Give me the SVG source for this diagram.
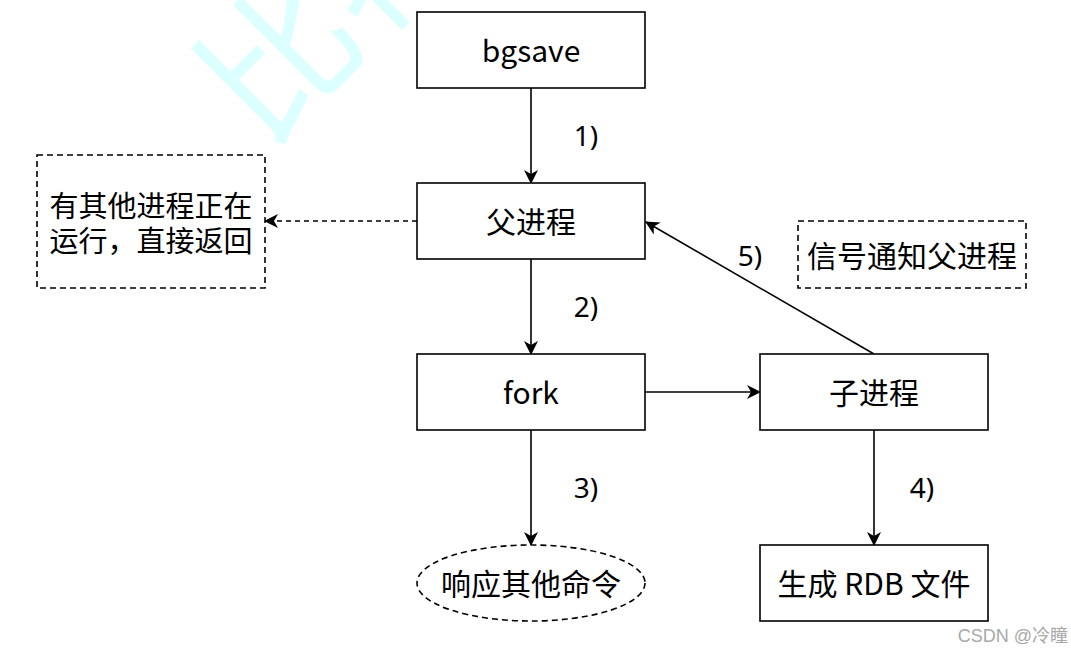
<svg xmlns="http://www.w3.org/2000/svg" width="1071" height="652" viewBox="0 0 1071 652">
<style>
.box{fill:#fff;stroke:#000;stroke-width:1.6}
.dash{fill:#fff;stroke:#000;stroke-width:1.6;stroke-dasharray:6 4}
.t{font-family:"Noto Sans CJK SC","Noto Sans",sans-serif;font-size:30px;fill:#000;text-anchor:middle;dominant-baseline:central}
.n{font-family:"Noto Sans","Noto Sans CJK SC",sans-serif;font-size:28px;fill:#000;text-anchor:middle;dominant-baseline:central}
.e{fill:none;stroke:#000;stroke-width:1.6}
</style>
<defs>
<marker id="ah" viewBox="0 0 14 14" refX="13" refY="7" markerWidth="14" markerHeight="14" markerUnits="userSpaceOnUse" orient="auto">
<path d="M0,0 L14,7 L0,14 L4,7 Z" fill="#000"/>
</marker>
</defs>
<rect width="1071" height="652" fill="#fff"/>
<g id="watermark">
<text x="265" y="150" transform="rotate(-45 265 150)" font-family="Noto Sans CJK SC,sans-serif" font-size="150" fill="#dcffff">比特</text>
</g>
<g id="connectors">
<line class="e" x1="531" y1="88" x2="531" y2="183" marker-end="url(#ah)"/>
<line class="e" x1="417" y1="221" x2="265" y2="221" stroke-dasharray="5 4" marker-end="url(#ah)"/>
<line class="e" x1="531" y1="259" x2="531" y2="354" marker-end="url(#ah)"/>
<line class="e" x1="645" y1="392" x2="760" y2="392" marker-end="url(#ah)"/>
<line class="e" x1="531" y1="430" x2="531" y2="545" marker-end="url(#ah)"/>
<line class="e" x1="874" y1="430" x2="874" y2="545" marker-end="url(#ah)"/>
<line class="e" x1="874" y1="354" x2="646" y2="222" marker-end="url(#ah)"/>
<text class="n" x="586" y="135">1)</text>
<text class="n" x="586" y="306">2)</text>
<text class="n" x="586" y="487">3)</text>
<text class="n" x="922" y="487">4)</text>
<text class="n" x="750" y="255">5)</text>
</g>
<g id="bgsave"><rect class="box" x="417" y="12" width="228" height="76"/><text class="t" x="531" y="49">bgsave</text></g>
<g id="parent"><rect class="box" x="417" y="183" width="228" height="76"/><text class="t" x="531" y="220">父进程</text></g>
<g id="fork"><rect class="box" x="417" y="354" width="228" height="76"/><text class="t" x="531" y="391">fork</text></g>
<g id="child"><rect class="box" x="760" y="354" width="228" height="76"/><text class="t" x="874" y="391">子进程</text></g>
<g id="rdb"><rect class="box" x="760" y="545" width="228" height="76"/><text class="t" x="874" y="582">生成 RDB 文件</text></g>
<g id="respond"><ellipse class="dash" cx="531" cy="583" rx="114" ry="38"/><text class="t" x="531" y="582">响应其他命令</text></g>
<g id="running"><rect class="dash" x="37" y="155" width="228" height="133"/><text class="t" style="font-size:29px"><tspan x="151" y="204">有其他进程正在</tspan><tspan x="151" y="239">运行，直接返回</tspan></text></g>
<g id="signal"><rect class="dash" x="798" y="221" width="228" height="67"/><text class="t" x="912" y="254">信号通知父进程</text></g>
<g id="csdn"><text x="1068" y="642" font-family="Liberation Sans,Noto Sans CJK SC,sans-serif" font-size="18" fill="#a8a8a8" text-anchor="end">CSDN @冷瞳</text></g>
</svg>
